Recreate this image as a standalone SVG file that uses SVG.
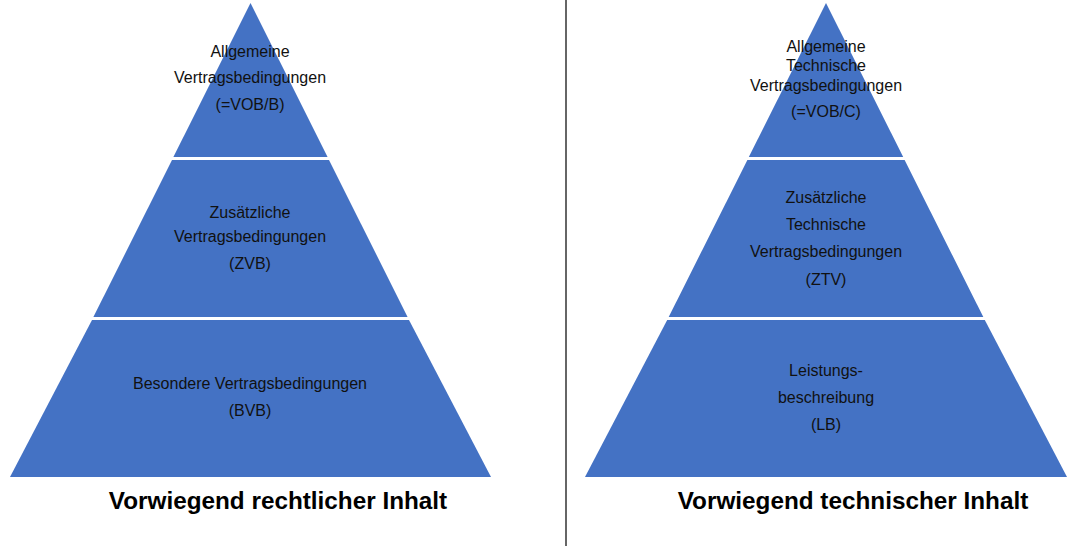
<svg xmlns="http://www.w3.org/2000/svg" width="1076" height="546" viewBox="0 0 1076 546">
<style>
.tier{fill:#4472C4;}
.lbl{font-family:"Liberation Sans",Arial,sans-serif;font-size:16px;fill:#111;text-anchor:middle;}
.ttl{font-family:"Liberation Sans",Arial,sans-serif;font-size:24.3px;font-weight:bold;fill:#000;text-anchor:middle;}
.sep{stroke:#333;stroke-width:1.5;}
</style>
<rect width="1076" height="546" fill="#fff"/>
<g id="left-top">
<polygon class="tier" points="250.5,3 327.6,157 173.4,157"/>
<text class="lbl" x="250" y="57">Allgemeine</text>
<text class="lbl" x="250" y="83">Vertragsbedingungen</text>
<text class="lbl" x="250" y="110">(=VOB/B)</text>
</g>
<g id="left-middle">
<polygon class="tier" points="172,160 329,160 407.6,317 93.4,317"/>
<text class="lbl" x="250" y="218">Zusätzliche</text>
<text class="lbl" x="250" y="242">Vertragsbedingungen</text>
<text class="lbl" x="250" y="269">(ZVB)</text>
</g>
<g id="left-bottom">
<polygon class="tier" points="92,320 409,320 491,477 10,477"/>
<text class="lbl" x="250" y="389">Besondere Vertragsbedingungen</text>
<text class="lbl" x="250" y="416">(BVB)</text>
</g>
<g id="right-top">
<polygon class="tier" points="826,3 903.2,157 748.8,157"/>
<text class="lbl" x="826" y="52">Allgemeine</text>
<text class="lbl" x="826" y="71">Technische</text>
<text class="lbl" x="826" y="91">Vertragsbedingungen</text>
<text class="lbl" x="826" y="117">(=VOB/C)</text>
</g>
<g id="right-middle">
<polygon class="tier" points="747.4,160 904.6,160 983.3,317 668.7,317"/>
<text class="lbl" x="826" y="203">Zusätzliche</text>
<text class="lbl" x="826" y="230">Technische</text>
<text class="lbl" x="826" y="257">Vertragsbedingungen</text>
<text class="lbl" x="826" y="285">(ZTV)</text>
</g>
<g id="right-bottom">
<polygon class="tier" points="667.2,320 984.8,320 1067,477 585,477"/>
<text class="lbl" x="826" y="376">Leistungs-</text>
<text class="lbl" x="826" y="403">beschreibung</text>
<text class="lbl" x="826" y="430">(LB)</text>
</g>
<g id="titles">
<text class="ttl" x="278" y="509">Vorwiegend rechtlicher Inhalt</text>
<text class="ttl" x="853" y="509">Vorwiegend technischer Inhalt</text>
</g>
<g id="connectors">
<line class="sep" x1="566" y1="0" x2="566" y2="546"/>
</g>
</svg>
